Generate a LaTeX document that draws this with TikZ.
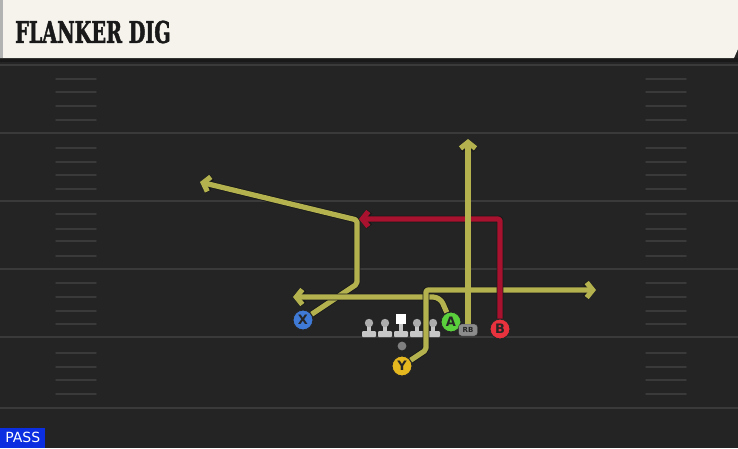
\documentclass[tikz,border=0pt]{standalone}
\usepackage{fontspec}
\setsansfont{DejaVu Sans}
\newfontfamily\titlefont{DejaVu Serif}[FakeStretch=0.64, BoldFeatures={FakeBold=1.5}]
\usetikzlibrary{arrows.meta,positioning}

\definecolor{field}{HTML}{242424}
\definecolor{yardline}{HTML}{3A3A3A}
\definecolor{cream}{HTML}{F5F3EC}
\definecolor{routeyellow}{HTML}{B3B24F}
\definecolor{routered}{HTML}{A8122E}
\definecolor{xblue}{HTML}{3F7AD6}
\definecolor{agreen}{HTML}{5AD13C}
\definecolor{bred}{HTML}{E8333F}
\definecolor{yyellow}{HTML}{E6B820}
\definecolor{passblue}{HTML}{0A2EE0}

\tikzset{
  route/.style={draw=routeyellow, line width=5.2pt, line join=round, rounded corners=2pt,
    preaction={draw=black!90, line width=6.8pt},
    -{Straight Barb[length=6pt,width=15pt]}},
  redroute/.style={route, draw=routered},
  player/.style={circle, draw=black!85, line width=1pt, minimum size=20pt, inner sep=0pt,
    text=black!85, font=\sffamily\bfseries\fontsize{13}{13}\selectfont},
  hash/.style={yardline, line width=1.5pt, line cap=round},
  lineman/.style={fill=black!22}
}

\begin{document}
\begin{tikzpicture}[x=1pt,y=-1pt]
	\useasboundingbox (0,0) rectangle (738,448);
	\fill[field] (0,0) rectangle (738,448);
	% yard lines and hashes
	\foreach \y in {65,133,201,269,337,408}
		\draw[yardline, line width=2pt] (0,\y) -- (738,\y);
	\foreach \y in {79,92,106,120,148,162,175,189,214,229,241,256,283,297,311,324,353,367,380,394} {
		\draw[hash] (56,\y) -- (96,\y);
		\draw[hash] (646,\y) -- (686,\y);
	}
	% header
	\fill[black!90] (0,58) rectangle (738,62);
	\fill[cream] (0,0) -- (738,0) -- (738,49) -- (734,58) -- (0,58) -- cycle;
	\fill[black!30] (0,0) rectangle (3,58);
	\node[anchor=west, inner sep=0pt, text=black!90, font=\titlefont\bfseries\fontsize{30}{30}\selectfont] (title) at (15,32) {FLANKER DIG};
	% play type
	\node[anchor=south west, fill=passblue, text=white, inner sep=0pt, minimum width=45pt, minimum height=20pt,
		font=\sffamily\fontsize{14}{14}\selectfont] (pass) at (0,448) {PASS};
	% offensive line
	\foreach \x in {369,385,417,433} {
		\fill[lineman, rounded corners=1pt] (\x-7,331) rectangle (\x+7,337);
		\fill[lineman] (\x-2.4,324) rectangle (\x+2.4,332);
		\fill[black!32] (\x,323) circle (4.2);
	}
	\fill[lineman, rounded corners=1pt] (394,331) rectangle (408,337);
	\fill[lineman] (398.6,322) rectangle (403.4,332);
	\fill[white] (396,314) rectangle (406,324);
	\fill[black!50] (402,346) circle (4.4);
	% players
	\node[player, fill=xblue] (X) at (303,320) {X};
	\node[player, fill=yyellow] (Y) at (402,366) {Y};
	\node[player, fill=agreen] (A) at (451,322) {A};
	\node[player, fill=bred] (B) at (500,329) {B};
	\node[fill=black!45, draw=black!85, rounded corners=3pt, minimum width=19pt, minimum height=12pt, inner sep=0pt,
		text=black!85, font=\sffamily\bfseries\fontsize{7}{7}\selectfont] (RB) at (468,330) {RB};
	% route points
	\coordinate (xbreak) at (357,284);
	\coordinate (xcut) at (357,220);
	\coordinate (xend) at (200,182);
	\coordinate (bbreak) at (500,219);
	\coordinate (bend) at (359,219);
	\coordinate (rbend) at (468,139);
	\coordinate (abreak) at (440,297);
	\coordinate (aend) at (293,297);
	\coordinate (ybreak) at (426,350);
	\coordinate (ycut) at (426,290);
	\coordinate (yend) at (596,290);
	% routes
	\draw[route] (X) -- (xbreak) -- (xcut) -- (xend);
	\draw[route, rounded corners=7pt] (A) -- (abreak) -- (aend);
	\draw[route] (Y) -- (ybreak) -- (ycut) -- (yend);
	\draw[redroute] (B) -- (bbreak) -- (bend);
	\draw[route] (RB) -- (rbend);
\end{tikzpicture}
\end{document}
